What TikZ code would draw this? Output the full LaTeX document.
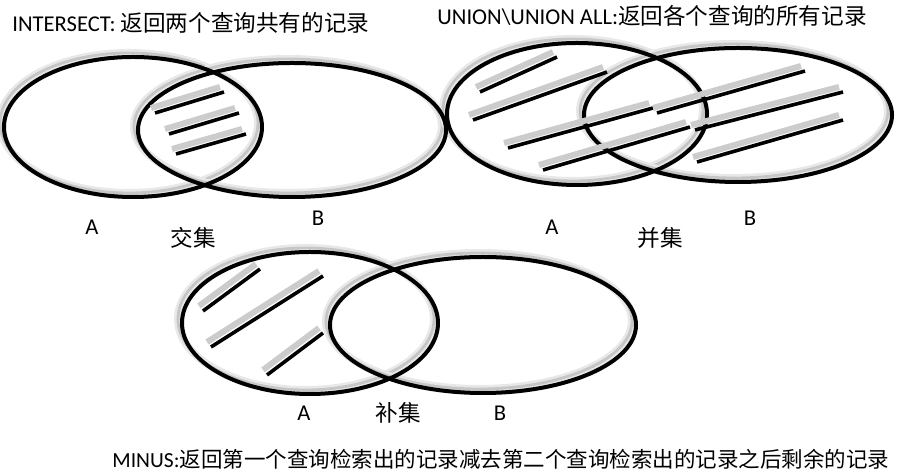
\documentclass[tikz,border=0pt]{standalone}
\usepackage{fontspec}
\setmainfont{Carlito}
\newfontfamily\cjk{Noto Sans CJK SC}
\begin{document}
\begin{tikzpicture}
  [x=0.5pt,y=-0.5pt,every node/.style={inner sep=0,font=\fontsize{11.3}{13}\selectfont},
   halo/.style={gray!18,line width=4pt},
   halocore/.style={gray!45,line width=1.4pt},
   setline/.style={black,line width=2pt},
   rec/.style={black,line width=1.8pt},
   recshade/.style={gray!40,line width=3pt}]
  \useasboundingbox (0,0) rectangle (899,474);

  \coordinate (iA) at (133,127);
  \coordinate (iB) at (292,130);
  \coordinate (uA) at (577,114);
  \coordinate (uB) at (738,115);
  \coordinate (mA) at (310,323);
  \coordinate (mB) at (483,325);

  % shadows first, then the sets
  \foreach \c/\rx/\ry in {iA/129/70,iB/154/67,uA/130/71,uB/154/67,mA/128/71,mB/153/68}
  {
    \draw[halo] ([shift={(-4,-4)}]\c) ellipse [x radius=\rx,y radius=\ry];
    \draw[halocore] ([shift={(-4,-4)}]\c) ellipse [x radius=\rx,y radius=\ry];
  }
  \foreach \c/\rx/\ry in {iA/129/70,iB/154/67,uA/130/71,uB/154/67,mA/128/71,mB/153/68}
    \draw[setline] (\c) ellipse [x radius=\rx,y radius=\ry];

  % records
  \foreach \xa/\ya/\xb/\yb in {155/113/224/92,169/134/239/113,176/154/246/134,
    480/92/557/57,473/120/607/72,508/148/653/108,657/113/805/71,543/170/690/127,
    695/130/843/92,697/162/843/120,
    203/311/260/269,211/347/323/276,267/375/323/333}
  {
    \draw[recshade] (\xa-4,\ya-5) -- (\xb-4,\yb-5);
    \draw[rec] (\xa,\ya) -- (\xb,\yb);
  }

  \node[anchor=west] (titleI) at (12,23) {INTERSECT: {\cjk 返回两个查询共有的记录}};
  \node[anchor=west] (titleU) at (437,16) {UNION\textbackslash UNION ALL:{\cjk 返回各个查询的所有记录}};
  \node[anchor=west,font=\fontsize{10.75}{13}\selectfont] (titleM) at (112,459) {MINUS:{\cjk 返回第一个查询检索出的记录减去第二个查询检索出的记录之后剩余的记录}};

  \node (labiA) at (92,227) {A};
  \node (labiB) at (318,218) {B};
  \node (capI) at (193,238) {\cjk 交集};
  \node (labuA) at (552,227) {A};
  \node (labuB) at (750,218) {B};
  \node (capU) at (660,238) {\cjk 并集};
  \node (labmA) at (304,413) {A};
  \node (capM) at (398,413) {\cjk 补集};
  \node (labmB) at (500,413) {B};

\end{tikzpicture}
\end{document}
